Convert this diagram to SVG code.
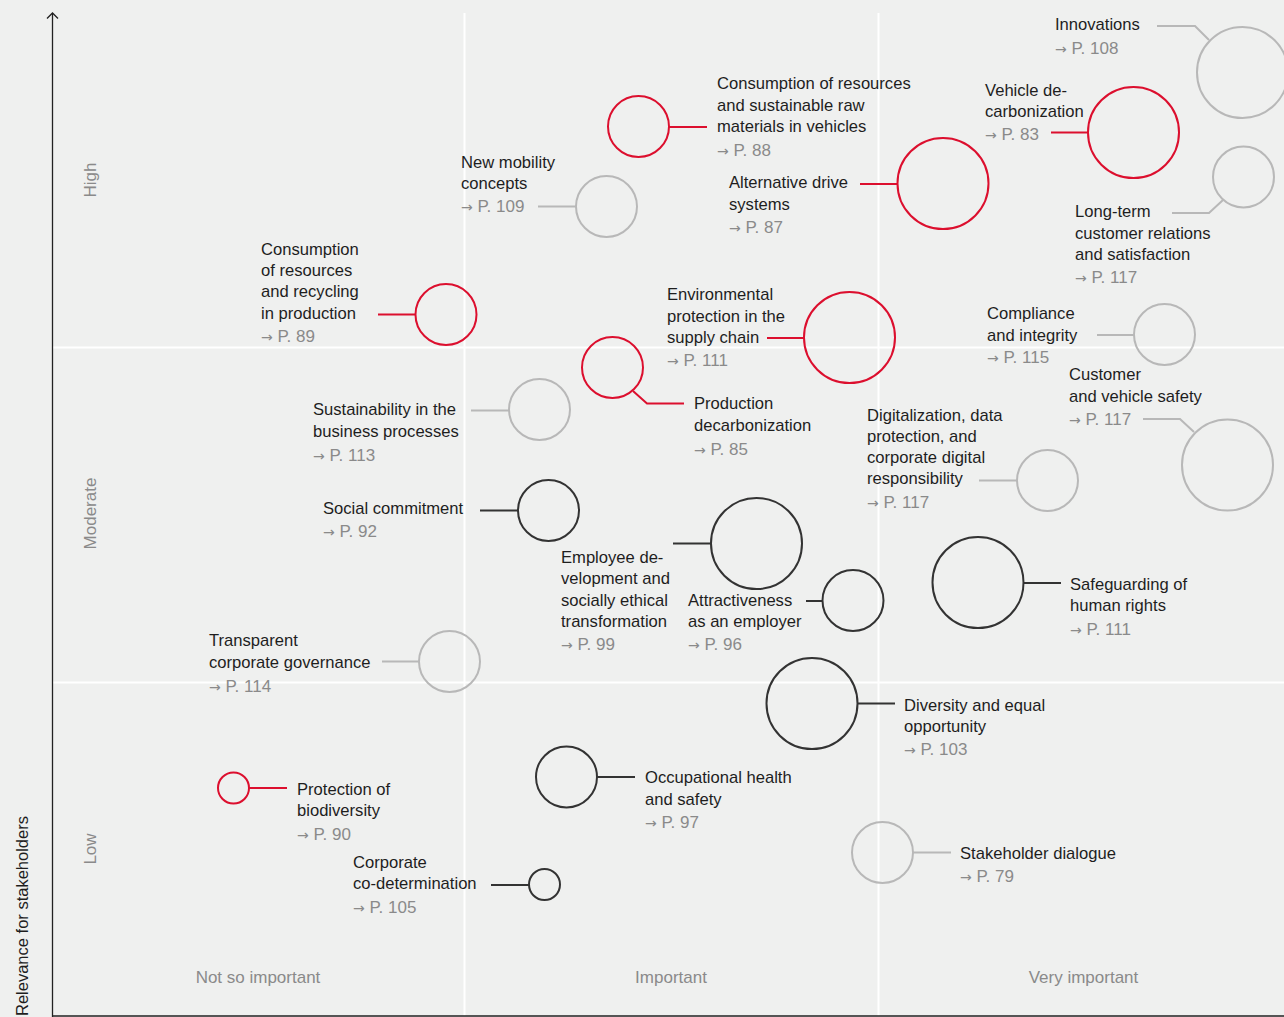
<svg xmlns="http://www.w3.org/2000/svg" width="1284" height="1017" viewBox="0 0 1284 1017">
<style>
.t{font-family:"Liberation Sans",Arial,sans-serif;font-size:16.6px;fill:#1e1e1e}
.p{fill:#8a8a8a;font-size:17px}
.a{font-family:"DejaVu Sans",sans-serif;font-size:14px}
.ax{font-family:"Liberation Sans",Arial,sans-serif;font-size:17px;fill:#8a8a8a}
.grid{stroke:#ffffff;stroke-width:2;fill:none}
.c{fill:none;stroke-width:2}
.r{stroke:#dc0f2e}
.d{stroke:#333333}
.g{stroke:#b8b8b8}
</style>
<rect x="0" y="0" width="1284" height="1017" fill="#eff0ef"/>
<g id="grid">
<line class="grid" x1="464.5" y1="13" x2="464.5" y2="1016"/>
<line class="grid" x1="878.5" y1="13" x2="878.5" y2="1016"/>
<line class="grid" x1="53" y1="347.5" x2="1284" y2="347.5"/>
<line class="grid" x1="53" y1="682.5" x2="1284" y2="682.5"/>
</g>
<g id="axes">
<line x1="52.5" y1="13" x2="52.5" y2="1017" stroke="#222" stroke-width="1.3"/>
<polyline points="47,18.5 52.5,13 58,18.5" fill="none" stroke="#222" stroke-width="1.3"/>
<line x1="52" y1="1016" x2="1284" y2="1016" stroke="#222" stroke-width="1.3"/>
<text class="ax" transform="translate(96,180) rotate(-90)" text-anchor="middle">High</text>
<text class="ax" transform="translate(96,513.5) rotate(-90)" text-anchor="middle">Moderate</text>
<text class="ax" transform="translate(96,849) rotate(-90)" text-anchor="middle">Low</text>
<text transform="translate(28,1016) rotate(-90)" font-family="Liberation Sans,Arial,sans-serif" font-size="16.5" fill="#1e1e1e">Relevance for stakeholders</text>
<text class="ax" x="258" y="983" text-anchor="middle">Not so important</text>
<text class="ax" x="671" y="983" text-anchor="middle">Important</text>
<text class="ax" x="1083.5" y="983" text-anchor="middle">Very important</text>
</g>
<g id="connectors" fill="none" stroke-width="2">
<polyline class="g" points="1157,26 1195,26 1209,40"/>
<line class="r" x1="1051" y1="132.5" x2="1088" y2="132.5"/>
<polyline class="g" points="1172,213 1209,213 1223,200"/>
<line class="g" x1="1097" y1="335" x2="1134" y2="335"/>
<polyline class="g" points="1143,419 1180,419 1194,432"/>
<line class="g" x1="979" y1="480.5" x2="1017" y2="480.5"/>
<line class="d" x1="1024" y1="583" x2="1061" y2="583"/>
<line class="d" x1="858" y1="703.5" x2="895" y2="703.5"/>
<line class="d" x1="597" y1="777" x2="635" y2="777"/>
<line class="g" x1="913" y1="852.5" x2="951" y2="852.5"/>
<line class="r" x1="249" y1="788" x2="287" y2="788"/>
<line class="d" x1="491" y1="885" x2="529" y2="885"/>
<line class="g" x1="382" y1="661.5" x2="419" y2="661.5"/>
<line class="d" x1="480" y1="510.5" x2="518" y2="510.5"/>
<line class="g" x1="471" y1="410.5" x2="509" y2="410.5"/>
<polyline class="r" points="633,391 647,403.5 684,403.5"/>
<line class="d" x1="673" y1="543.5" x2="711" y2="543.5"/>
<line class="d" x1="806" y1="601" x2="823" y2="601"/>
<line class="r" x1="767" y1="338" x2="804" y2="338"/>
<line class="r" x1="860" y1="184" x2="897" y2="184"/>
<line class="r" x1="669" y1="127" x2="707" y2="127"/>
<line class="g" x1="538" y1="206.5" x2="576" y2="206.5"/>
<line class="r" x1="378" y1="314.5" x2="416" y2="314.5"/>
</g>
<g id="n-innovations">
<circle class="c g" cx="1242.5" cy="72.5" r="45.5"/>
<text class="t" x="1055" y="30">Innovations</text>
<text class="t p" x="1055" y="54"><tspan class="a">→</tspan> P. 108</text>
</g>
<g id="n-vehicle-decarbonization">
<circle class="c r" cx="1133.5" cy="132.5" r="45.5"/>
<text class="t" x="985" y="96">Vehicle de-</text>
<text class="t" x="985" y="117">carbonization</text>
<text class="t p" x="985" y="140"><tspan class="a">→</tspan> P. 83</text>
</g>
<g id="n-long-term">
<circle class="c g" cx="1243.5" cy="177" r="30.5"/>
<text class="t" x="1075" y="217">Long-term</text>
<text class="t" x="1075" y="239">customer relations</text>
<text class="t" x="1075" y="260">and satisfaction</text>
<text class="t p" x="1075" y="283"><tspan class="a">→</tspan> P. 117</text>
</g>
<g id="n-compliance">
<circle class="c g" cx="1164.5" cy="334.5" r="30.5"/>
<text class="t" x="987" y="319">Compliance</text>
<text class="t" x="987" y="341">and integrity</text>
<text class="t p" x="987" y="363"><tspan class="a">→</tspan> P. 115</text>
</g>
<g id="n-customer-safety">
<circle class="c g" cx="1227.5" cy="465" r="45.5"/>
<text class="t" x="1069" y="380">Customer</text>
<text class="t" x="1069" y="402">and vehicle safety</text>
<text class="t p" x="1069" y="425"><tspan class="a">→</tspan> P. 117</text>
</g>
<g id="n-digitalization">
<circle class="c g" cx="1047.5" cy="480.5" r="30.5"/>
<text class="t" x="867" y="421">Digitalization, data</text>
<text class="t" x="867" y="442">protection, and</text>
<text class="t" x="867" y="463">corporate digital</text>
<text class="t" x="867" y="484">responsibility</text>
<text class="t p" x="867" y="508"><tspan class="a">→</tspan> P. 117</text>
</g>
<g id="n-human-rights">
<circle class="c d" cx="978" cy="582.5" r="45.5"/>
<text class="t" x="1070" y="590">Safeguarding of</text>
<text class="t" x="1070" y="611">human rights</text>
<text class="t p" x="1070" y="635"><tspan class="a">→</tspan> P. 111</text>
</g>
<g id="n-diversity">
<circle class="c d" cx="812" cy="703.5" r="45.5"/>
<text class="t" x="904" y="711">Diversity and equal</text>
<text class="t" x="904" y="732">opportunity</text>
<text class="t p" x="904" y="755"><tspan class="a">→</tspan> P. 103</text>
</g>
<g id="n-occupational">
<circle class="c d" cx="566.5" cy="777" r="30.5"/>
<text class="t" x="645" y="783">Occupational health</text>
<text class="t" x="645" y="805">and safety</text>
<text class="t p" x="645" y="828"><tspan class="a">→</tspan> P. 97</text>
</g>
<g id="n-stakeholder">
<circle class="c g" cx="882.5" cy="852.5" r="30.5"/>
<text class="t" x="960" y="859">Stakeholder dialogue</text>
<text class="t p" x="960" y="882"><tspan class="a">→</tspan> P. 79</text>
</g>
<g id="n-biodiversity">
<circle class="c r" cx="233.5" cy="788" r="15.5"/>
<text class="t" x="297" y="795">Protection of</text>
<text class="t" x="297" y="816">biodiversity</text>
<text class="t p" x="297" y="840"><tspan class="a">→</tspan> P. 90</text>
</g>
<g id="n-codetermination">
<circle class="c d" cx="544.5" cy="884.5" r="15.5"/>
<text class="t" x="353" y="868">Corporate</text>
<text class="t" x="353" y="889">co-determination</text>
<text class="t p" x="353" y="913"><tspan class="a">→</tspan> P. 105</text>
</g>
<g id="n-governance">
<circle class="c g" cx="449.5" cy="661.5" r="30.5"/>
<text class="t" x="209" y="646">Transparent</text>
<text class="t" x="209" y="668">corporate governance</text>
<text class="t p" x="209" y="692"><tspan class="a">→</tspan> P. 114</text>
</g>
<g id="n-social">
<circle class="c d" cx="548.5" cy="510.5" r="30.5"/>
<text class="t" x="323" y="514">Social commitment</text>
<text class="t p" x="323" y="537"><tspan class="a">→</tspan> P. 92</text>
</g>
<g id="n-sustainability">
<circle class="c g" cx="539.5" cy="409.5" r="30.5"/>
<text class="t" x="313" y="415">Sustainability in the</text>
<text class="t" x="313" y="437">business processes</text>
<text class="t p" x="313" y="461"><tspan class="a">→</tspan> P. 113</text>
</g>
<g id="n-production-decarbonization">
<circle class="c r" cx="612.5" cy="367.5" r="30.5"/>
<text class="t" x="694" y="409">Production</text>
<text class="t" x="694" y="431">decarbonization</text>
<text class="t p" x="694" y="455"><tspan class="a">→</tspan> P. 85</text>
</g>
<g id="n-employee">
<circle class="c d" cx="756.5" cy="543.5" r="45.5"/>
<text class="t" x="561" y="563">Employee de-</text>
<text class="t" x="561" y="584">velopment and</text>
<text class="t" x="561" y="606">socially ethical</text>
<text class="t" x="561" y="627">transformation</text>
<text class="t p" x="561" y="650"><tspan class="a">→</tspan> P. 99</text>
</g>
<g id="n-attractiveness">
<circle class="c d" cx="853" cy="600.5" r="30.5"/>
<text class="t" x="688" y="606">Attractiveness</text>
<text class="t" x="688" y="627">as an employer</text>
<text class="t p" x="688" y="650"><tspan class="a">→</tspan> P. 96</text>
</g>
<g id="n-environmental">
<circle class="c r" cx="849.5" cy="337.5" r="45.5"/>
<text class="t" x="667" y="300">Environmental</text>
<text class="t" x="667" y="322">protection in the</text>
<text class="t" x="667" y="343">supply chain</text>
<text class="t p" x="667" y="366"><tspan class="a">→</tspan> P. 111</text>
</g>
<g id="n-alternative-drive">
<circle class="c r" cx="943" cy="183.5" r="45.5"/>
<text class="t" x="729" y="188">Alternative drive</text>
<text class="t" x="729" y="210">systems</text>
<text class="t p" x="729" y="233"><tspan class="a">→</tspan> P. 87</text>
</g>
<g id="n-raw-materials">
<circle class="c r" cx="638.5" cy="126.5" r="30.5"/>
<text class="t" x="717" y="89">Consumption of resources</text>
<text class="t" x="717" y="111">and sustainable raw</text>
<text class="t" x="717" y="132">materials in vehicles</text>
<text class="t p" x="717" y="156"><tspan class="a">→</tspan> P. 88</text>
</g>
<g id="n-new-mobility">
<circle class="c g" cx="606.5" cy="206.5" r="30.5"/>
<text class="t" x="461" y="168">New mobility</text>
<text class="t" x="461" y="189">concepts</text>
<text class="t p" x="461" y="212"><tspan class="a">→</tspan> P. 109</text>
</g>
<g id="n-recycling">
<circle class="c r" cx="446" cy="314.5" r="30.5"/>
<text class="t" x="261" y="255">Consumption</text>
<text class="t" x="261" y="276">of resources</text>
<text class="t" x="261" y="297">and recycling</text>
<text class="t" x="261" y="319">in production</text>
<text class="t p" x="261" y="342"><tspan class="a">→</tspan> P. 89</text>
</g>
</svg>
